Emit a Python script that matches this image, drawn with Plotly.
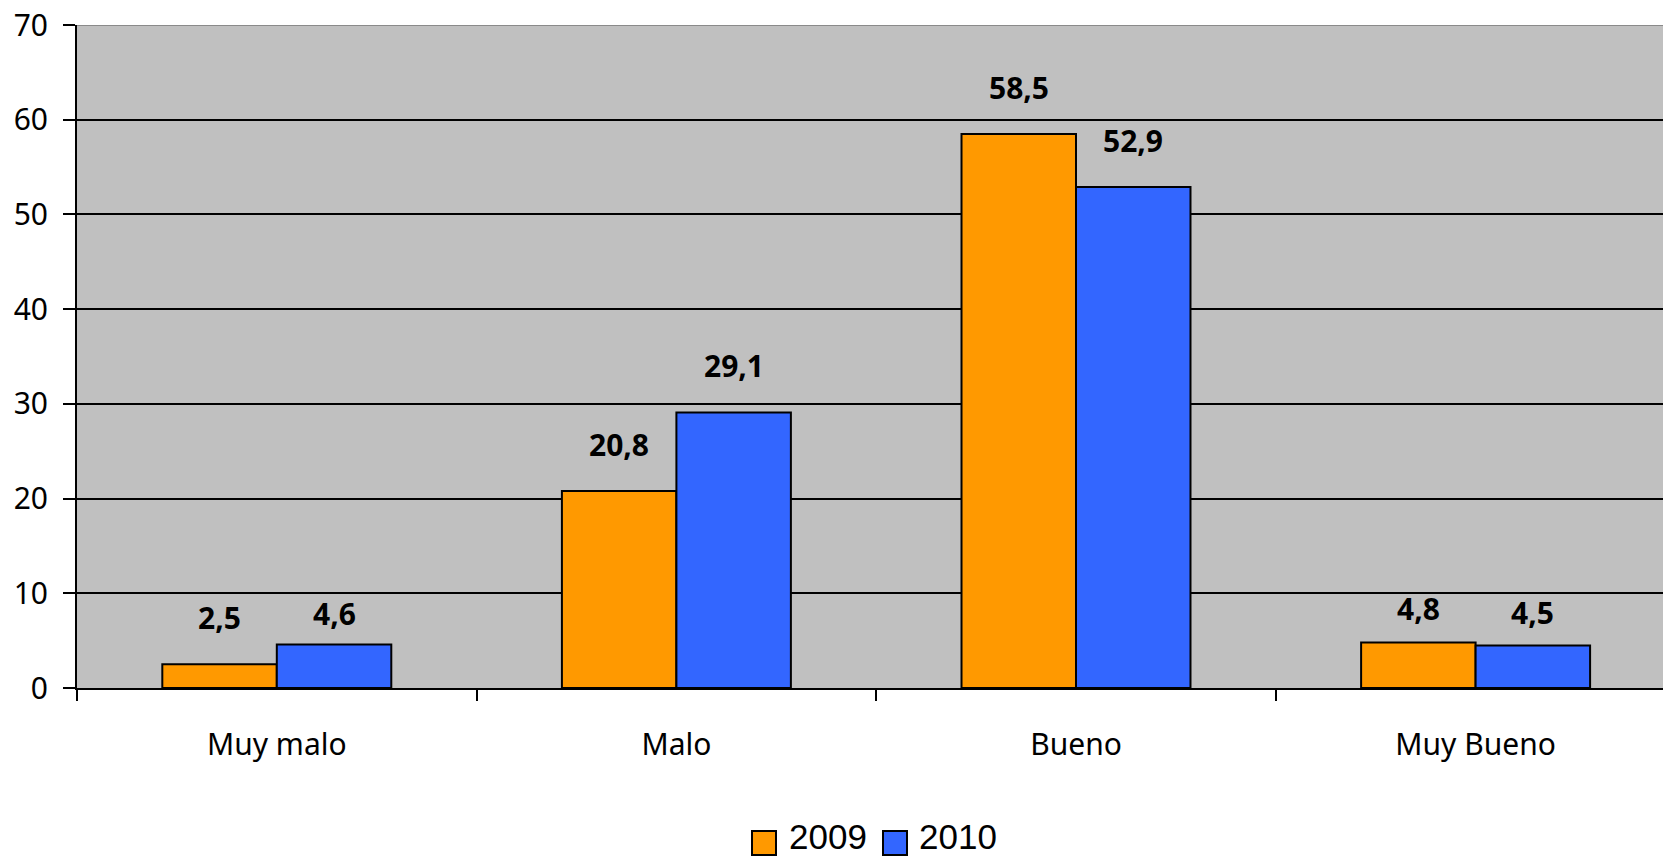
import plotly.graph_objects as go

# Survey ratings, share of answers (%)
categories = ["Muy malo", "Malo", "Bueno", "Muy Bueno"]
years = ["2009", "2010"]
values_2009 = [2.5, 20.8, 58.5, 4.8]
values_2010 = [4.6, 29.1, 52.9, 4.5]
y_ticks = [0, 10, 20, 30, 40, 50, 60, 70]

ORANGE = "#FF9900"
BLUE = "#3366FF"
PLOT_BG = "#C0C0C0"

W, H = 1663, 858
M_L, M_R, M_T, M_B = 77, 0, 25, 170
PLOT_W = W - M_L - M_R
PLOT_H = H - M_T - M_B
CAT_PX = 399.6  # pixel width of one category slot
BARGAP = 0.427
BAR_W = (1 - BARGAP) / 2
LABEL_SHIFT = 24  # px between bar top and its value label
# labels on the short bars sit a little closer to the bar
label_nudge = {(1, 0): -16, (0, 3): -12, (1, 3): -14}


def px_x(px):
    return (px - M_L) / PLOT_W


def px_y(py):
    return (H - M_B - py) / PLOT_H


def fmt(v):
    return f"{v:.1f}".replace(".", ",")


fig = go.Figure()
for name, vals, color in [(years[0], values_2009, ORANGE), (years[1], values_2010, BLUE)]:
    fig.add_trace(go.Bar(
        name=name, x=categories, y=vals,
        marker=dict(color=color, line=dict(color="#000000", width=2)),
        showlegend=False,
    ))

# value labels above the bars
for s, (offset, vals) in enumerate([(-BAR_W / 2, values_2009), (BAR_W / 2, values_2010)]):
    for i, v in enumerate(vals):
        fig.add_annotation(
            x=i + offset, y=v, xref="x", yref="y",
            text=f"<b>{fmt(v)}</b>", showarrow=False,
            yanchor="bottom", yshift=LABEL_SHIFT + label_nudge.get((s, i), 0),
            font=dict(family="Noto Sans", size=30, color="#000000"),
        )

# top frame line of the plot area
fig.add_shape(type="line", xref="paper", yref="y", x0=0, x1=1, y0=70, y1=70,
              line=dict(color="#8A8A8A", width=2), layer="above")

# legend: swatches and labels
legend_items = [(years[0], ORANGE, 752, 788), (years[1], BLUE, 883, 918)]
for label, color, sx, tx in legend_items:
    fig.add_shape(type="rect", xref="paper", yref="paper",
                  x0=px_x(sx), x1=px_x(sx + 24), y0=px_y(855), y1=px_y(831),
                  fillcolor=color, line=dict(color="#000000", width=2))
    fig.add_annotation(x=px_x(tx), y=px_y(857), xref="paper", yref="paper",
                       text=label, showarrow=False, xanchor="left", yanchor="bottom",
                       borderpad=0,
                       font=dict(family="Liberation Sans", size=35, color="#000000"))

fig.update_layout(
    width=W, height=H,
    margin=dict(l=M_L, r=M_R, t=M_T, b=M_B, pad=0),
    paper_bgcolor="#FFFFFF",
    plot_bgcolor=PLOT_BG,
    barmode="group", bargap=BARGAP, bargroupgap=0,
    showlegend=False,
)
fig.update_xaxes(
    range=[-0.5, -0.5 + PLOT_W / CAT_PX],
    showline=True, linecolor="#000000", linewidth=2,
    ticks="outside", tickson="boundaries", ticklen=11, tickwidth=2, tickcolor="#000000",
    ticklabelstandoff=29,
    tickfont=dict(family="Noto Sans", size=30, color="#000000"),
    showgrid=False, zeroline=False,
)
fig.update_yaxes(
    range=[0, 70], tickvals=y_ticks,
    showline=True, linecolor="#000000", linewidth=2,
    ticks="outside", ticklen=12, tickwidth=2, tickcolor="#000000",
    ticklabelstandoff=9,
    tickfont=dict(family="Noto Sans", size=30, color="#000000"),
    showgrid=True, gridcolor="#000000", gridwidth=2, zeroline=False,
)

fig.write_html("out.html")
